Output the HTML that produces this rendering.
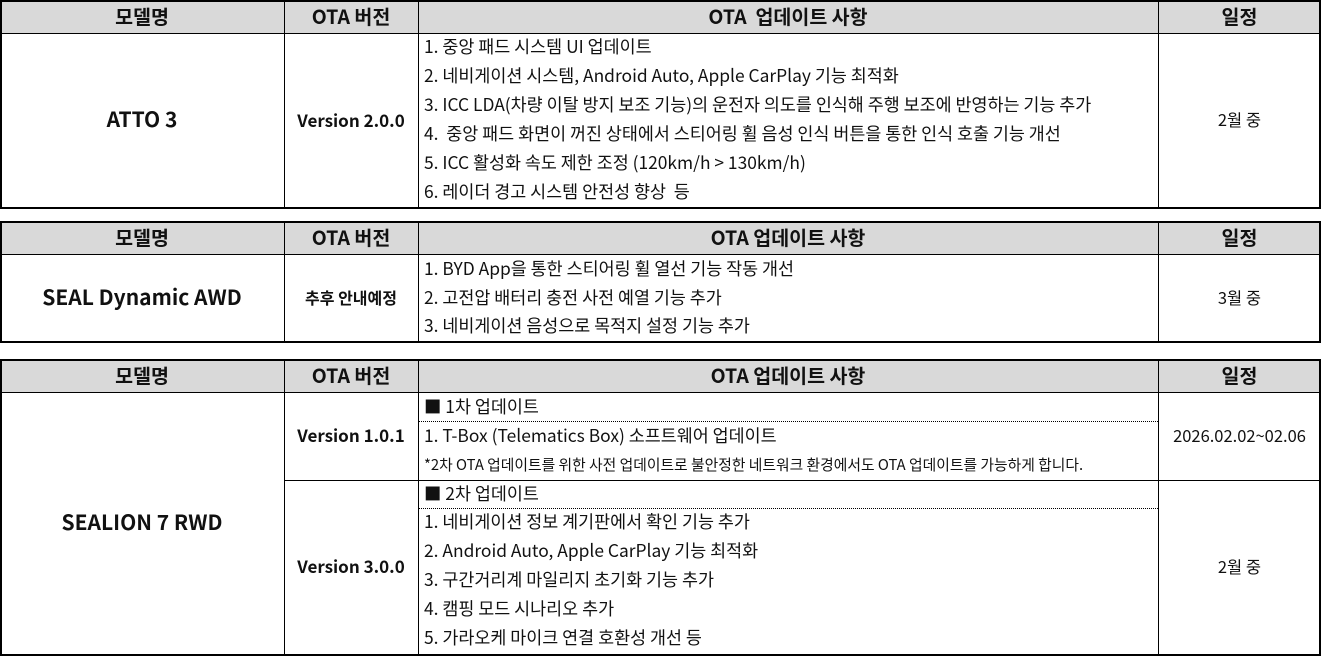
<!DOCTYPE html>
<html><head><meta charset="utf-8"><style>
body{margin:0;width:1321px;height:656px;background:#fff;position:relative;overflow:hidden;font-family:"Noto Sans CJK KR","Liberation Sans",sans-serif;color:#111;}
.b{position:absolute;box-sizing:border-box;}
.t{position:absolute;white-space:nowrap;font-size:17.4px;line-height:20px;}
.c{position:absolute;display:flex;align-items:center;justify-content:center;white-space:nowrap;font-size:16.5px;padding-bottom:4px;box-sizing:border-box;}
.h{font-weight:bold;font-size:19.5px;}
.m{font-weight:bold;font-size:21px;}
.bd{font-weight:bold;font-size:17px;}
</style></head><body>
<!-- table 1 -->
<div class="b" style="left:0;top:0;width:1321px;height:34px;background:#d9d9d9"></div>
<div class="b" style="left:0;top:0;width:1321px;height:209px;border:2px solid #000"></div>
<div class="b" style="left:0;top:33px;width:1321px;height:1px;background:#000"></div>
<div class="b" style="left:284px;top:0;width:1px;height:209px;background:#000"></div>
<div class="b" style="left:418px;top:0;width:1px;height:209px;background:#000"></div>
<div class="b" style="left:1158px;top:0;width:1px;height:209px;background:#000"></div>
<div class="c h" style="left:0;top:0;width:284px;height:34px">모델명</div>
<div class="c h" style="left:284px;top:0;width:134px;height:34px">OTA 버전</div>
<div class="c h" style="left:418px;top:0;width:740px;height:34px">OTA&nbsp; 업데이트 사항</div>
<div class="c h" style="left:1158px;top:0;width:163px;height:34px">일정</div>
<div class="c m" style="left:0;top:34px;width:284px;height:174px">ATTO 3</div>
<div class="c bd" style="left:284px;top:34px;width:134px;height:174px">Version 2.0.0</div>
<div class="c" style="left:1158px;top:34px;width:163px;height:174px">2월 중</div>
<div class="t" style="left:424px;top:37px">1. 중앙 패드 시스템 UI 업데이트</div>
<div class="t" style="left:424px;top:66px">2. 네비게이션 시스템, Android Auto, Apple CarPlay 기능 최적화</div>
<div class="t" style="left:424px;top:95px">3. ICC LDA(차량 이탈 방지 보조 기능)의 운전자 의도를 인식해 주행 보조에 반영하는 기능 추가</div>
<div class="t" style="left:424px;top:124px">4.&nbsp; 중앙 패드 화면이 꺼진 상태에서 스티어링 휠 음성 인식 버튼을 통한 인식 호출 기능 개선</div>
<div class="t" style="left:424px;top:153px">5. ICC 활성화 속도 제한 조정 (120km/h &gt; 130km/h)</div>
<div class="t" style="left:424px;top:182px">6. 레이더 경고 시스템 안전성 향상&nbsp; 등</div>
<!-- table 2 -->
<div class="b" style="left:0;top:222px;width:1321px;height:32px;background:#d9d9d9"></div>
<div class="b" style="left:0;top:221px;width:1321px;height:122px;border:2px solid #000"></div>
<div class="b" style="left:0;top:254px;width:1321px;height:1px;background:#000"></div>
<div class="b" style="left:284px;top:221px;width:1px;height:122px;background:#000"></div>
<div class="b" style="left:418px;top:221px;width:1px;height:122px;background:#000"></div>
<div class="b" style="left:1158px;top:221px;width:1px;height:122px;background:#000"></div>
<div class="c h" style="left:0;top:222px;width:284px;height:32px">모델명</div>
<div class="c h" style="left:284px;top:222px;width:134px;height:32px">OTA 버전</div>
<div class="c h" style="left:418px;top:222px;width:740px;height:32px">OTA 업데이트 사항</div>
<div class="c h" style="left:1158px;top:222px;width:163px;height:32px">일정</div>
<div class="c m" style="left:0;top:255px;width:284px;height:87px">SEAL Dynamic AWD</div>
<div class="c bd" style="left:284px;top:255px;width:134px;height:87px;font-size:16px">추후 안내예정</div>
<div class="c" style="left:1158px;top:255px;width:163px;height:87px">3월 중</div>
<div class="t" style="left:424px;top:259px">1. BYD App을 통한 스티어링 휠 열선 기능 작동 개선</div>
<div class="t" style="left:424px;top:288px">2. 고전압 배터리 충전 사전 예열 기능 추가</div>
<div class="t" style="left:424px;top:316px">3. 네비게이션 음성으로 목적지 설정 기능 추가</div>
<!-- table 3 -->
<div class="b" style="left:0;top:360px;width:1321px;height:32px;background:#d9d9d9"></div>
<div class="b" style="left:0;top:359px;width:1321px;height:297px;border:2px solid #000"></div>
<div class="b" style="left:0;top:392px;width:1321px;height:1px;background:#000"></div>
<div class="b" style="left:284px;top:359px;width:1px;height:297px;background:#000"></div>
<div class="b" style="left:418px;top:359px;width:1px;height:297px;background:#000"></div>
<div class="b" style="left:1158px;top:359px;width:1px;height:297px;background:#000"></div>
<div class="b" style="left:284px;top:480px;width:1036px;height:1px;background:#000"></div>
<div class="b" style="left:419px;top:421px;width:739px;height:0;border-top:1px dotted #000"></div>
<div class="b" style="left:419px;top:508px;width:739px;height:0;border-top:1px dotted #000"></div>
<div class="c h" style="left:0;top:360px;width:284px;height:32px">모델명</div>
<div class="c h" style="left:284px;top:360px;width:134px;height:32px">OTA 버전</div>
<div class="c h" style="left:418px;top:360px;width:740px;height:32px">OTA 업데이트 사항</div>
<div class="c h" style="left:1158px;top:360px;width:163px;height:32px">일정</div>
<div class="c m" style="left:0;top:393px;width:284px;height:261px">SEALION 7 RWD</div>
<div class="c bd" style="left:284px;top:393px;width:134px;height:87px">Version 1.0.1</div>
<div class="c bd" style="left:284px;top:481px;width:134px;height:173px">Version 3.0.0</div>
<div class="c" style="left:1158px;top:393px;width:163px;height:87px">2026.02.02~02.06</div>
<div class="c" style="left:1158px;top:481px;width:163px;height:173px">2월 중</div>
<div class="t" style="left:424px;top:397px">■ 1차 업데이트</div>
<div class="t" style="left:424px;top:426px">1. T-Box (Telematics Box) 소프트웨어 업데이트</div>
<div class="t" style="left:424px;top:455px;font-size:14.8px;letter-spacing:0">*2차 OTA 업데이트를 위한 사전 업데이트로 불안정한 네트워크 환경에서도 OTA 업데이트를 가능하게 합니다.</div>
<div class="t" style="left:424px;top:484px">■ 2차 업데이트</div>
<div class="t" style="left:424px;top:512px">1. 네비게이션 정보 계기판에서 확인 기능 추가</div>
<div class="t" style="left:424px;top:541px">2. Android Auto, Apple CarPlay 기능 최적화</div>
<div class="t" style="left:424px;top:570px">3. 구간거리계 마일리지 초기화 기능 추가</div>
<div class="t" style="left:424px;top:599px">4. 캠핑 모드 시나리오 추가</div>
<div class="t" style="left:424px;top:628px">5. 가라오케 마이크 연결 호환성 개선 등</div>
</body></html>
